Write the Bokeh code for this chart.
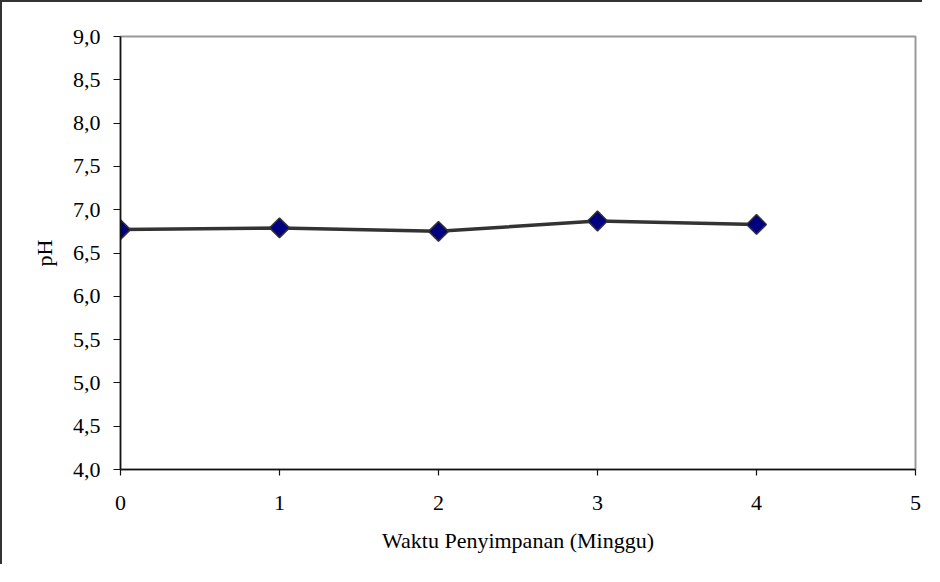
import numpy as np
from bokeh.plotting import figure
from bokeh.models import FixedTicker, Range1d
from bokeh.embed import file_html
from bokeh.resources import INLINE

# Data
weeks = [0, 1, 2, 3, 4]
ph_values = [6.77, 6.79, 6.75, 6.87, 6.83]
y_ticks = [4.0, 4.5, 5.0, 5.5, 6.0, 6.5, 7.0, 7.5, 8.0, 8.5, 9.0]
y_tick_labels = ["4,0", "4,5", "5,0", "5,5", "6,0", "6,5", "7,0", "7,5", "8,0", "8,5", "9,0"]
x_ticks = [0, 1, 2, 3, 4, 5]
x_label = "Waktu Penyimpanan (Minggu)"
y_label = "pH"

FONT = "Liberation Serif"
FS = "22px"

p = figure(width=922, height=564, output_backend="svg", toolbar_location=None,
           x_range=Range1d(0, 5), y_range=Range1d(4, 9),
           min_border_left=118, min_border_top=34, min_border_right=9, min_border_bottom=97)
p.styles = {"border-left": "2px solid #333333", "border-top": "2px solid #333333"}

p.background_fill_color = "white"
p.border_fill_color = "white"
p.outline_line_color = "#9a9a9a"
p.outline_line_width = 2
p.xgrid.visible = False
p.ygrid.visible = False

# axes
p.yaxis.ticker = FixedTicker(ticks=y_ticks)
p.yaxis.major_label_overrides = {t: l for t, l in zip(y_ticks, y_tick_labels)}
p.xaxis.ticker = FixedTicker(ticks=x_ticks)

for ax in (p.xaxis[0], p.yaxis[0]):
    ax.axis_line_color = "#111111"
    ax.axis_line_width = 1.5
    ax.major_tick_line_color = "#111111"
    ax.major_tick_line_width = 1.2
    ax.major_tick_in = 0
    ax.minor_tick_line_color = None
    ax.major_label_text_font = FONT
    ax.major_label_text_font_size = FS
    ax.major_label_text_color = "black"
    ax.axis_label_text_font = FONT
    ax.axis_label_text_font_size = FS
    ax.axis_label_text_font_style = "normal"
    ax.axis_label_text_color = "black"

p.yaxis.major_tick_out = 7
p.yaxis.major_label_standoff = 13
p.yaxis.axis_label = y_label
p.yaxis.axis_label_standoff = 13
p.xaxis.major_tick_out = 6
p.xaxis.major_label_standoff = 20
p.xaxis.axis_label = x_label
p.xaxis.axis_label_standoff = 15

p.line(weeks, ph_values, line_color="#333333", line_width=3.5)
p.scatter(weeks, ph_values, marker="square", angle=np.pi / 4, size=14,
          fill_color="#000080", line_color="#333333", line_width=1.5)

open("out.html", "w").write(file_html(p, INLINE))
